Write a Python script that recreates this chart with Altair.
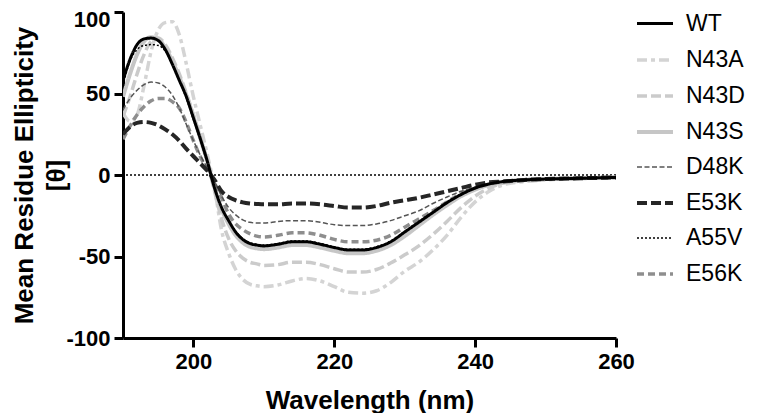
import altair as alt
import pandas as pd

wavelength = [190, 191, 192, 193, 194, 195, 196, 197, 198, 199, 200, 201, 202, 203, 204, 205,
              206, 207, 208, 209, 210, 212, 214, 216, 218, 220, 222, 224, 226, 228, 230, 232,
              234, 236, 238, 240, 242, 244, 247, 250, 255, 260]

wt = [58, 71, 80, 83.5, 84, 82.5, 77, 68, 58, 48, 35, 22, 8, -8, -20, -28,
      -35, -39.5, -42, -43, -43.5, -42.5, -41, -41, -42.5, -44.5, -46, -46, -44.5, -41, -35, -29,
      -23, -17, -12, -8, -5.5, -4, -3, -2.5, -2, -1.5]
n43a = [38, 33, 37, 55, 76, 89, 93.5, 94, 86, 68, 48, 30, 12, -8, -34, -48,
        -58, -64, -67, -68, -68.5, -67.5, -65, -63.5, -65, -68.5, -72, -72.5, -71, -66, -59, -53.5,
        -46, -37, -26, -16.5, -10, -6, -4, -3, -2, -1.5]
n43d = [36, 48, 62, 74, 82, 84, 80, 72, 62, 50, 37, 23, 8, -10, -27, -39,
        -46.5, -51, -53.5, -54.5, -55.5, -55, -53.5, -53.5, -55, -57.5, -59.5, -59.5, -58, -54, -49, -43.5,
        -36.5, -28.5, -20, -13, -8, -5, -3.5, -2.5, -2, -1.5]
n43s = [48, 62, 74, 82, 84.5, 83.5, 78, 70, 60, 49, 36, 22, 8, -8, -21, -30,
        -37, -41.5, -44, -45, -45.5, -44.5, -43, -43, -44.5, -46.5, -48, -48, -46.5, -43, -37.5, -31,
        -24.5, -18.5, -13, -9, -6, -4.5, -3, -2.5, -2, -1.5]
d48k = [40, 47, 52, 55.5, 57, 56.5, 54, 49, 41, 31, 21, 12, 4, -4, -13, -20,
        -24.5, -27.5, -29, -29.5, -29.5, -28.5, -28, -28, -29, -30.5, -31, -31, -30, -28, -25, -22,
        -17.5, -13.5, -10, -7.5, -5.5, -4, -3, -2.5, -2, -1.5]
e53k = [25, 29.5, 32, 32.5, 32, 30.5, 28, 25, 21, 16, 11.5, 7, 2.5, -3, -10, -13.5,
        -15.5, -16.8, -17.5, -17.8, -18, -18, -17.5, -17.5, -18, -19, -20, -20, -19, -17, -15.5, -14,
        -12, -10, -8, -6, -4.5, -4, -3, -2.5, -2, -1.5]
a55v = [55, 70, 77, 79.5, 80, 79.5, 76, 68, 58, 47, 34, 21, 7, -8, -20, -28,
        -34.5, -39, -41.5, -42.5, -43, -42, -40.5, -40.5, -42, -44, -45.5, -45.5, -44, -40.5, -34.5, -28.5,
        -22.5, -16.5, -11.5, -8, -5.5, -4, -3, -2.5, -2, -1.5]
e56k = [22, 30, 37, 42, 45.5, 47, 47, 45, 41, 32, 21, 11, 3, -5, -14, -24,
        -30, -33.5, -36, -37.5, -38, -37, -35.5, -35.5, -37, -39.5, -41, -41, -40, -37, -32, -27,
        -22, -16.5, -11.5, -8, -5.5, -4, -3, -2.5, -2, -1.5]

names = ["WT", "N43A", "N43D", "N43S", "D48K", "E53K", "A55V", "E56K"]
values = [wt, n43a, n43d, n43s, d48k, e53k, a55v, e56k]
colors = ["#000000", "#d4d4d4", "#cbcbcb", "#c6c6c6", "#555555", "#262626", "#000000", "#8e8e8e"]
dashes = [[1, 0], [10, 4, 4, 4], [10, 4], [1, 0], [5, 2.5], [10, 4], [2, 2], [7, 4]]
widths = [3, 3.5, 3.5, 4, 1.5, 4, 1.5, 3.5]
draw_order = ["N43A", "N43D", "N43S", "E56K", "D48K", "E53K", "WT", "A55V"]

rows = []
for n, vals in zip(names, values):
    for w, v in zip(wavelength, vals):
        rows.append({"wavelength": w, "value": v, "series": n})
df = pd.DataFrame(rows)

FONT = "Liberation Sans"

legend = alt.Legend(title=None, orient="none", legendX=512, legendY=-8,
                    symbolType="stroke", symbolSize=1296, labelFontSize=23,
                    labelFont=FONT, labelColor="black", labelOffset=11,
                    rowPadding=4, padding=0, labelFontWeight="normal")

base = alt.Chart(df).mark_line(interpolate="monotone", clip=True).encode(
    x=alt.X("wavelength:Q", title="Wavelength (nm)",
            scale=alt.Scale(domain=[190, 260], nice=False, zero=False),
            axis=alt.Axis(values=[200, 220, 240, 260], titleY=70, titleBaseline="alphabetic",
                          labelPadding=4)),
    y=alt.Y("value:Q", title=["Mean Residue Ellipticity", "[θ]"],
            scale=alt.Scale(domain=[-100, 100], nice=False),
            axis=alt.Axis(values=[-100, -50, 0, 50, 100], labelExpr="'' + datum.value",
                          labelOffset={"condition": {"test": "datum.value == 100", "value": 7}, "value": 0},
                          titleX=-99, titleY=163, titleAlign="center", titleBaseline="middle",
                          titleFontSize=26, titleLineHeight=32, labelPadding=4)),
    color=alt.Color("series:N", scale=alt.Scale(domain=names, range=colors), legend=legend),
    strokeDash=alt.StrokeDash("series:N", scale=alt.Scale(domain=names, range=dashes), legend=legend),
    strokeWidth=alt.StrokeWidth("series:N", scale=alt.Scale(type="ordinal", domain=names, range=widths),
                                legend=legend),
)

zero = alt.Chart(pd.DataFrame({"z": [0]})).mark_rule(
    color="black", strokeWidth=1.5, strokeDash=[2, 2]).encode(y="z:Q")

layers = [zero] + [base.transform_filter(alt.datum.series == s) for s in draw_order]

chart = alt.layer(*layers).properties(
    width=493, height=326,
    padding={"left": 115, "top": 4, "right": 136, "bottom": 75},
    autosize=alt.AutoSizeParams(type="none"),
).configure_view(stroke=None).configure_axis(
    domainColor="black", domainWidth=3, tickColor="black", tickWidth=3, tickSize=9,
    labelFont=FONT, labelFontSize=22, labelFontWeight="bold", labelColor="black",
    titleFont=FONT, titleFontSize=26, titleFontWeight="bold", titleColor="black",
    grid=False, labelFlush=False, labelOverlap=False,
)

chart.save("out.html", embed_options={"renderer": "svg", "actions": False})
